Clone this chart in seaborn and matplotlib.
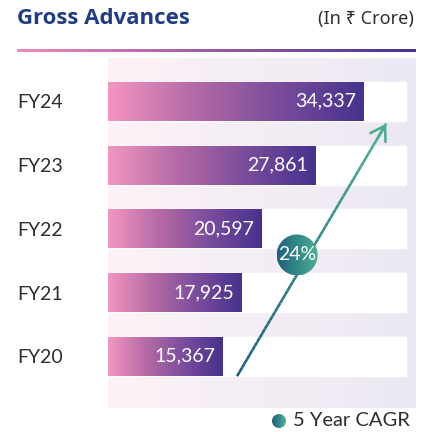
import numpy as np
import pandas as pd
import seaborn as sns
import matplotlib.pyplot as plt
from matplotlib.collections import LineCollection
from matplotlib.colors import LinearSegmentedColormap
from matplotlib.patches import Ellipse

# data
years = ["FY24", "FY23", "FY22", "FY21", "FY20"]
advances = [34337, 27861, 20597, 17925, 15367]
track_max = 40000
cagr_label = "24%"
cagr_start = (17350, 4.31)
cagr_end = (37390, 0.35)
cagr_badge = (25420, 2.41)
title = "Gross Advances"
unit = "(In \u20b9 Crore)"
legend_label = "5 Year CAGR"

sns.set_theme(style="white")
plt.rcParams['font.family'] = ['Lato', 'DejaVu Sans']

bar_cmap = LinearSegmentedColormap.from_list("bar", ["#f296bf", "#b56aa6", "#7a4c9c", "#46328e"])
panel_cmap = LinearSegmentedColormap.from_list("panel", ["#fdf2f7", "#ebe8f3"])
teal_cmap = LinearSegmentedColormap.from_list("teal", ["#1c6280", "#4caf91"])
rule_cmap = LinearSegmentedColormap.from_list("rule", ["#f08ab8", "#9a5aa0", "#3d3595"])
grad = np.linspace(0, 1, 256).reshape(1, -1)

W, H = 431, 432
fig = plt.figure(figsize=(W / 100, H / 100), dpi=100)
ax = fig.add_axes([108 / W, 1 - 408 / H, (416 - 108) / W, (408 - 58) / H])

df = pd.DataFrame({"year": years, "value": advances, "track": [track_max] * len(years)})
sns.barplot(data=df, x="track", y="year", color="white", saturation=1, width=0.61, ax=ax, zorder=2)
sns.barplot(data=df, x="value", y="year", color="#7a4c9c", saturation=1, width=0.61, ax=ax, zorder=3)

xmax = 41400
y0, y1 = 4.81, -0.68

# gradient fill on the value bars
for p in ax.patches[len(years):]:
    x, y = p.get_x(), p.get_y()
    w, h = p.get_width(), p.get_height()
    im = ax.imshow(grad, cmap=bar_cmap, extent=[x, x + w, y + h, y], aspect="auto", zorder=3)
    im.set_clip_path(p)
    p.set_facecolor("none")
    p.set_edgecolor("none")
    ax.text(x + w - xmax / 308 * 7, y + h / 2, f"{int(w):,}", color="white", fontsize=14,
            ha="right", va="center", zorder=10)

# panel background
ax.imshow(grad, cmap=panel_cmap, extent=[0, xmax, y0, y1], aspect="auto", zorder=0)

# cagr arrow
n = 60
xs = np.linspace(cagr_start[0], cagr_end[0], n)
ys = np.linspace(cagr_start[1], cagr_end[1], n)
segs = np.stack([np.column_stack([xs[:-1], ys[:-1]]), np.column_stack([xs[1:], ys[1:]])], axis=1)
lc = LineCollection(segs, colors=teal_cmap(np.linspace(0, 1, n - 1)), linewidths=1.9, zorder=6)
ax.add_collection(lc)
ax.annotate("", xy=cagr_end, xytext=(xs[-4], ys[-4]),
            arrowprops=dict(arrowstyle="->,head_length=0.7,head_width=0.45", color="#4caf91",
                            lw=1.9, mutation_scale=14, shrinkA=0, shrinkB=0), zorder=7)

sx = xmax / 308
sy = (y0 - y1) / 350
r = 20.5
badge = Ellipse(cagr_badge, 2 * r * sx, 2 * r * sy, facecolor="none", edgecolor="none", zorder=8)
ax.add_patch(badge)
im = ax.imshow(grad, cmap=teal_cmap,
               extent=[cagr_badge[0] - r * sx, cagr_badge[0] + r * sx,
                       cagr_badge[1] + r * sy, cagr_badge[1] - r * sy],
               aspect="auto", zorder=8)
im.set_clip_path(badge)
ax.text(cagr_badge[0], cagr_badge[1], cagr_label, color="white", fontsize=14,
        ha="center", va="center", zorder=9)
ax.set_xlim(0, xmax)
ax.set_ylim(y0, y1)

ax.set_xlabel("")
ax.set_ylabel("")
ax.set_xticks([])
for s in ax.spines.values():
    s.set_visible(False)
ax.tick_params(axis="y", length=0, pad=65.5, labelsize=14, labelcolor="#2e2e2e")
for lbl in ax.get_yticklabels():
    lbl.set_ha("left")

# overlay for header and legend
ov = fig.add_axes([0, 0, 1, 1])
ov.axis("off")
ov.patch.set_alpha(0)
ov.text(17, 18, title, fontsize=16, fontweight="bold", color="#1f3c88",
        family=["Open Sans", "DejaVu Sans"], ha="left", va="center")
ov.text(414, 19, unit, fontsize=13, color="#2e2e2e",
        family=["Noto Sans", "DejaVu Sans"], ha="right", va="center")
ov.imshow(grad, cmap=rule_cmap, extent=[17, 416, 52.5, 49.5], aspect="auto")
dot = Ellipse((279, 421), 14, 14, facecolor="none", edgecolor="none")
ov.add_patch(dot)
im = ov.imshow(grad, cmap=teal_cmap, extent=[272, 286, 428, 414], aspect="auto")
im.set_clip_path(dot)
ov.text(293, 421, legend_label, fontsize=14.5, color="#2e2e2e", ha="left", va="center")
ov.set_xlim(0, W)
ov.set_ylim(H, 0)

fig.savefig("out.png", dpi=100)
